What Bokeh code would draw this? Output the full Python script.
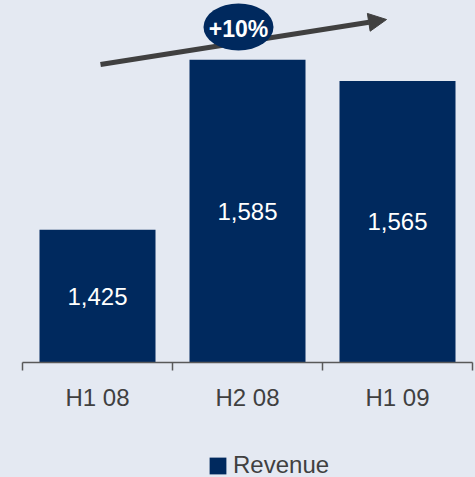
from bokeh.plotting import figure
from bokeh.models import (ColumnDataSource, Range1d, FixedTicker, Arrow, NormalHead,
                          Legend, LegendItem, GlobalInlineStyleSheet)
from bokeh.core.properties import value
from bokeh.embed import file_html
from bokeh.resources import INLINE

# ---- data ----
categories = ["H1 08", "H2 08", "H1 09"]
revenue = [1425, 1585, 1565]
growth_label = "+10%"
series_name = "Revenue"

# ---- style ----
BG = "#E4E9F2"
NAVY = "#00295E"
GRAY = "#404040"
AXIS_GRAY = "#595959"
FONT = "Liberation Sans"

W, H = 475, 477
axis_px = 362          # pixel row of the category axis
left_px = 22           # pixel column of the first category boundary
cat_px = 150           # pixel width of a category
y_base = 1300
px_per_unit = 1.0625

y_start = y_base - (H - axis_px) / px_per_unit
y_end = y_base + axis_px / px_per_unit

xs = [i + 0.5 for i in range(len(categories))]
mids = [(y_base + v) / 2 for v in revenue]
labels = [f"{v:,}" for v in revenue]
src = ColumnDataSource(dict(x=xs, top=revenue, mid=mids, label=labels))

p = figure(width=W, height=H, output_backend="svg", toolbar_location=None,
           x_range=Range1d(-left_px / cat_px, (W - left_px) / cat_px),
           y_range=Range1d(y_start, y_end),
           min_border_left=0, min_border_right=0, min_border_top=0, min_border_bottom=0,
           background_fill_color=BG, border_fill_color=BG, outline_line_color=None,
           y_axis_location=None)
p.stylesheets = [GlobalInlineStyleSheet(css="body { background: %s; }" % BG)]
p.xgrid.visible = False
p.ygrid.visible = False

ax = p.xaxis[0]
ax.fixed_location = y_base
ax.ticker = FixedTicker(ticks=xs, minor_ticks=list(range(len(categories) + 1)))
ax.major_label_overrides = {x: c for x, c in zip(xs, categories)}
ax.bounds = (0, len(categories))
ax.major_tick_in = 0
ax.major_tick_out = 0
ax.minor_tick_in = 0
ax.minor_tick_out = 8
ax.minor_tick_line_color = AXIS_GRAY
ax.minor_tick_line_width = 1.5
ax.axis_line_color = AXIS_GRAY
ax.axis_line_width = 1.5
ax.major_label_standoff = 13
ax.major_label_text_font = FONT
ax.major_label_text_font_size = "24px"
ax.major_label_text_color = GRAY

bars = p.vbar(x="x", top="top", bottom=y_base, width=116 / 150, source=src,
              fill_color=NAVY, line_color=None)
p.text(x="x", y="mid", text="label", source=src, text_color="white",
       text_font=value(FONT), text_font_size="24px", text_align="center",
       text_baseline="middle")

# growth arrow
p.add_layout(Arrow(end=NormalHead(size=18, fill_color=GRAY, line_color=GRAY, line_width=1),
                   x_start=0.52, y_start=1580.5, x_end=2.427, y_end=1622.8,
                   line_color=GRAY, line_width=5))

cx, cy = 1.44, 1615.8
p.ellipse(x=[cx], y=[cy], width=70, height=47, width_units="screen", height_units="screen",
          fill_color=NAVY, line_color=None, level="overlay")
p.text(x=[cx], y=[cy - 1.5], text=[growth_label], text_color="white",
       text_font=value(FONT), text_font_style="bold", text_font_size="23px",
       text_align="center", text_baseline="middle", level="overlay")

legend = Legend(items=[LegendItem(label=series_name, renderers=[bars])],
                location=(207, -2), orientation="horizontal",
                label_text_font=FONT, label_text_font_size="24px", label_text_color=GRAY,
                glyph_width=21, glyph_height=21, label_standoff=5, padding=0, margin=0,
                spacing=0, border_line_color=None, background_fill_alpha=0)
p.add_layout(legend)

open("out.html", "w").write(file_html(p, INLINE))
